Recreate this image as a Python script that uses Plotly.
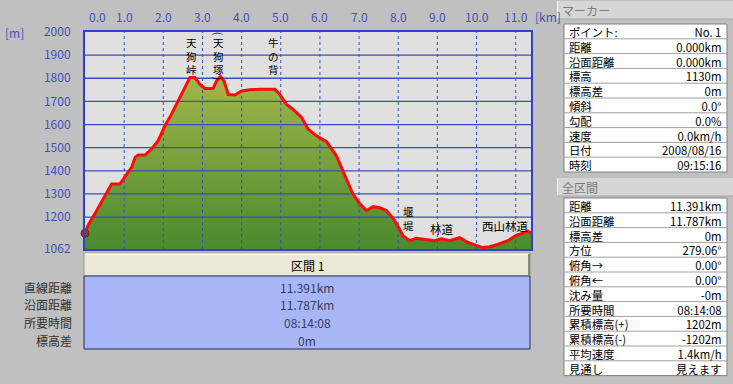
import plotly.graph_objects as go

# ---------------- data ----------------
dist_km = [0.00, 0.08, 0.30, 0.50, 0.68, 0.89, 1.02, 1.19, 1.28, 1.36, 1.53, 1.70, 1.87,
           2.04, 2.21, 2.38, 2.55, 2.68, 2.81, 2.93, 3.06, 3.27, 3.36, 3.46, 3.55, 3.66,
           3.83, 4.00, 4.21, 4.46, 4.85, 4.97, 5.14, 5.31, 5.53, 5.70, 5.91, 6.17, 6.42,
           6.63, 6.84, 7.02, 7.19, 7.36, 7.53, 7.70, 7.91, 8.12, 8.29, 8.46, 8.71, 8.93,
           9.10, 9.31, 9.57, 9.78, 9.99, 10.16, 10.33, 10.54, 10.80, 11.01, 11.18, 11.31, 11.391]
elev_m = [1130, 1165, 1228, 1290, 1343, 1343, 1372, 1415, 1458, 1468, 1468, 1494, 1530,
          1594, 1645, 1702, 1760, 1803, 1803, 1774, 1756, 1756, 1788, 1807, 1788, 1730,
          1728, 1745, 1750, 1753, 1753, 1731, 1688, 1666, 1631, 1580, 1551, 1526, 1465,
          1386, 1300, 1257, 1228, 1245, 1240, 1228, 1185, 1120, 1098, 1108, 1103, 1098,
          1106, 1098, 1111, 1090, 1078, 1068, 1072, 1082, 1098, 1121, 1130, 1140, 1130]

x_ticks = [0, 1, 2, 3, 4, 5, 6, 7, 8, 9, 10, 11]
x_tick_labels = ["0.0", "1.0", "2.0", "3.0", "4.0", "5.0", "6.0", "7.0", "8.0", "9.0", "10.0", "11.0"]
y_ticks = [1062, 1200, 1300, 1400, 1500, 1600, 1700, 1800, 1900, 2000]
y_tick_labels = ["1062", "1200", "1300", "1400", "1500", "1600", "1700", "1800", "1900", "2000"]

# waypoint names: vertical ones (km, elevation of the label centre) and horizontal ones
vert_names = ["天狗峠", "天狗塚", "牛の背", "堰堤"]
vert_bracketed = [False, True, False, False]
vert_km = [2.73, 3.40, 4.82, 8.25]
vert_mid_m = [1895, 1895, 1895, 1196]
horiz_names = ["林道", "西山林道"]
horiz_km = [9.11, 10.73]
horiz_m = [1148, 1161]

marker_point_km = [0.0]
marker_point_m = [1130]

section_title = "区間 1"
section_labels = ["直線距離", "沿面距離", "所要時間", "標高差"]
section_values = ["11.391km", "11.787km", "08:14:08", "0m"]

marker_title = "マーカー"
marker_labels = ["ポイント:", "距離", "沿面距離", "標高", "標高差", "傾斜", "勾配", "速度", "日付", "時刻"]
marker_values = ["No. 1", "0.000km", "0.000km", "1130m", "0m", "0.0°", "0.0%", "0.0km/h", "2008/08/16", "09:15:16"]

total_title = "全区間"
total_labels = ["距離", "沿面距離", "標高差", "方位", "俯角→", "俯角←", "沈み量", "所要時間",
                "累積標高(+)", "累積標高(-)", "平均速度", "見通し"]
total_values = ["11.391km", "11.787km", "0m", "279.06°", "0.00°", "0.00°", "-0m", "08:14:08",
                "1202m", "-1202m", "1.4km/h", "見えます"]

# ---------------- layout helpers ----------------
W, H = 733, 384
PL, PR, PT, PB = 85, 531, 32, 249
FONT = "Noto Sans CJK JP"
BLUE_TXT = "#4050b8"
GRID = "#3a4cc4"
X_MAX = 11.391


def px(x):
    return (x - PL) / (PR - PL)


def py(y):
    return (PB - y) / (PB - PT)


def ptext(x, y, text, xanchor="center", color="#000000", size=12, **kw):
    return dict(x=px(x), y=py(y), xref="paper", yref="paper", text=text, showarrow=False,
                xanchor=xanchor, yanchor="middle",
                font=dict(family=FONT, size=size, color=color), **kw)


fig = go.Figure()
# filled area (gradient) under the profile
fig.add_trace(go.Scatter(
    x=dist_km, y=elev_m, mode="lines", line=dict(width=0, color="rgba(0,0,0,0)"),
    fill="tozeroy",
    fillgradient=dict(type="vertical", start=1062, stop=1810,
                      colorscale=[[0, "#4a8a2e"], [1, "#a2b64a"]]),
    hoverinfo="skip", showlegend=False,
))
# grid lines drawn over the fill (from tick arrays)
gx, gy = [], []
for v in y_ticks[1:-1]:
    gx += [0, X_MAX, None]
    gy += [v, v, None]
fig.add_trace(go.Scatter(x=gx, y=gy, mode="lines", line=dict(color=GRID, width=1.3),
                         hoverinfo="skip", showlegend=False))
vx, vy = [], []
for v in x_ticks[1:]:
    vx += [v, v, None]
    vy += [1062, 2000, None]
fig.add_trace(go.Scatter(x=vx, y=vy, mode="lines", line=dict(color=GRID, width=1, dash="dot"),
                         hoverinfo="skip", showlegend=False))
# red profile line
fig.add_trace(go.Scatter(
    x=dist_km, y=elev_m, mode="lines", line=dict(color="#ff0a0a", width=3),
    hoverinfo="skip", showlegend=False,
))
# hiker marker at current point
fig.add_trace(go.Scatter(
    x=marker_point_km, y=marker_point_m, mode="markers",
    marker=dict(symbol="circle", size=8, color="#a83030", line=dict(color="#503020", width=1)),
    hoverinfo="skip", showlegend=False, cliponaxis=False,
))

ann = []
shapes = []

# top x labels
for v, t in zip(x_ticks, x_tick_labels):
    ann.append(dict(x=v, y=py(17), xref="x", yref="paper", text=t, showarrow=False,
                    xanchor="center", yanchor="middle",
                    xshift=12 if v == 0 else 0,
                    font=dict(family=FONT, size=12, color=BLUE_TXT)))
ann.append(ptext(533, 17, "[km]", xanchor="left", color=BLUE_TXT))
ann.append(ptext(3, 33, "[m]", xanchor="left", color=BLUE_TXT))

# vertical waypoint labels (stacked glyphs)
VS = 10.5
for name, br, km, mid in zip(vert_names, vert_bracketed, vert_km, vert_mid_m):
    ann.append(dict(x=km, y=mid, xref="x", yref="y", text="<br>".join(name), showarrow=False,
                    xanchor="center", yanchor="middle",
                    font=dict(family=FONT, size=VS, color="#000000")))
    if br:
        half = (len(name) * 1.3 * VS) / 2
        ann.append(dict(x=km, y=mid, xref="x", yref="y", text="(", showarrow=False,
                        textangle=90, xanchor="center", yanchor="middle", yshift=half + 2,
                        font=dict(family=FONT, size=VS, color="#000000")))
        ann.append(dict(x=km, y=mid, xref="x", yref="y", text=")", showarrow=False,
                        textangle=90, xanchor="center", yanchor="middle", yshift=-half - 2,
                        font=dict(family=FONT, size=VS, color="#000000")))
for name, km, m in zip(horiz_names, horiz_km, horiz_m):
    ann.append(dict(x=km, y=m, xref="x", yref="y", text=name, showarrow=False,
                    xanchor="center", yanchor="middle",
                    font=dict(family=FONT, size=11.5, color="#000000")))

# ---- bottom section table ----
shapes.append(dict(type="rect", xref="paper", yref="paper", x0=px(84), x1=px(530), y0=py(253), y1=py(276),
                   fillcolor="#ece9d8", line=dict(color="#9a9890", width=1), layer="above"))
shapes.append(dict(type="line", xref="paper", yref="paper", x0=px(85), x1=px(529), y0=py(254), y1=py(254),
                   line=dict(color="#ffffff", width=1)))
shapes.append(dict(type="line", xref="paper", yref="paper", x0=px(529), x1=px(529), y0=py(254), y1=py(275),
                   line=dict(color="#6a6a6a", width=1.5)))
shapes.append(dict(type="rect", xref="paper", yref="paper", x0=px(84), x1=px(530), y0=py(276), y1=py(349),
                   fillcolor="#a6b6f6", line=dict(color="#2a2c58", width=1), layer="above"))
ann.append(ptext(307, 265, section_title))
row_y = [287, 304, 322, 340]
for lab, val, yy in zip(section_labels, section_values, row_y):
    ann.append(ptext(74, yy, lab, xanchor="right", color="#303030"))
    ann.append(ptext(307, yy, val, color="#3a3c5c"))


# ---- right panel ----
ROW_H = 14.8
PFS = ROW_H / 1.3


def panel(title, labels, values, head_top, table_top):
    shapes.append(dict(type="rect", xref="paper", yref="paper", x0=px(557), x1=px(734),
                       y0=py(head_top), y1=py(head_top + 18),
                       fillcolor="#d6d6d6", line=dict(width=0)))
    shapes.append(dict(type="line", xref="paper", yref="paper", x0=px(557.5), x1=px(557.5),
                       y0=py(head_top), y1=py(head_top + 18), line=dict(color="#f4f4f4", width=1)))
    shapes.append(dict(type="line", xref="paper", yref="paper", x0=px(557), x1=px(734),
                       y0=py(head_top + 18), y1=py(head_top + 18), line=dict(color="#a8a8a8", width=1)))
    ann.append(ptext(560, head_top + 9, title, xanchor="left", color="#7a7a7a"))
    n = len(labels)
    bottom = table_top + ROW_H * n
    shapes.append(dict(type="rect", xref="paper", yref="paper", x0=px(564), x1=px(727),
                       y0=py(table_top), y1=py(bottom),
                       fillcolor="#ffffff", line=dict(color="#808080", width=1)))
    for i in range(1, n):
        yl = table_top + ROW_H * i
        shapes.append(dict(type="line", xref="paper", yref="paper", x0=px(564), x1=px(727),
                           y0=py(yl), y1=py(yl), line=dict(color="#a0a0a0", width=1)))
    ymid = table_top + ROW_H * n / 2 + 0.5
    ann.append(ptext(567, ymid, "<br>".join(labels), xanchor="left", size=PFS, align="left"))
    ann.append(ptext(724, ymid, "<br>".join(values), xanchor="right", size=PFS, align="right"))


panel(marker_title, marker_labels, marker_values, 1, 24)
panel(total_title, total_labels, total_values, 178, 198)

fig.update_layout(
    width=W, height=H,
    margin=dict(l=PL, r=W - PR, t=PT, b=H - PB, pad=0),
    paper_bgcolor="#c0c0c0", plot_bgcolor="#e0e0e0",
    font=dict(family=FONT, size=12, color=BLUE_TXT),
    annotations=ann, shapes=shapes, showlegend=False,
    xaxis=dict(range=[0, X_MAX], showticklabels=False, ticks="", showgrid=False, zeroline=False,
               showline=True, mirror=True, linecolor="#3040c8", linewidth=2, fixedrange=True),
    yaxis=dict(range=[1062, 2000], tickvals=y_ticks, ticktext=y_tick_labels, ticks="",
               ticklabelstandoff=10, showgrid=False,
               tickfont=dict(family=FONT, size=12, color=BLUE_TXT),
               zeroline=False,
               showline=True, mirror=True, linecolor="#3040c8", linewidth=2, fixedrange=True),
)

fig.write_html("out.html", config={"displayModeBar": False},
               post_script="document.body.style.margin='0';document.body.style.background='#c0c0c0';")
